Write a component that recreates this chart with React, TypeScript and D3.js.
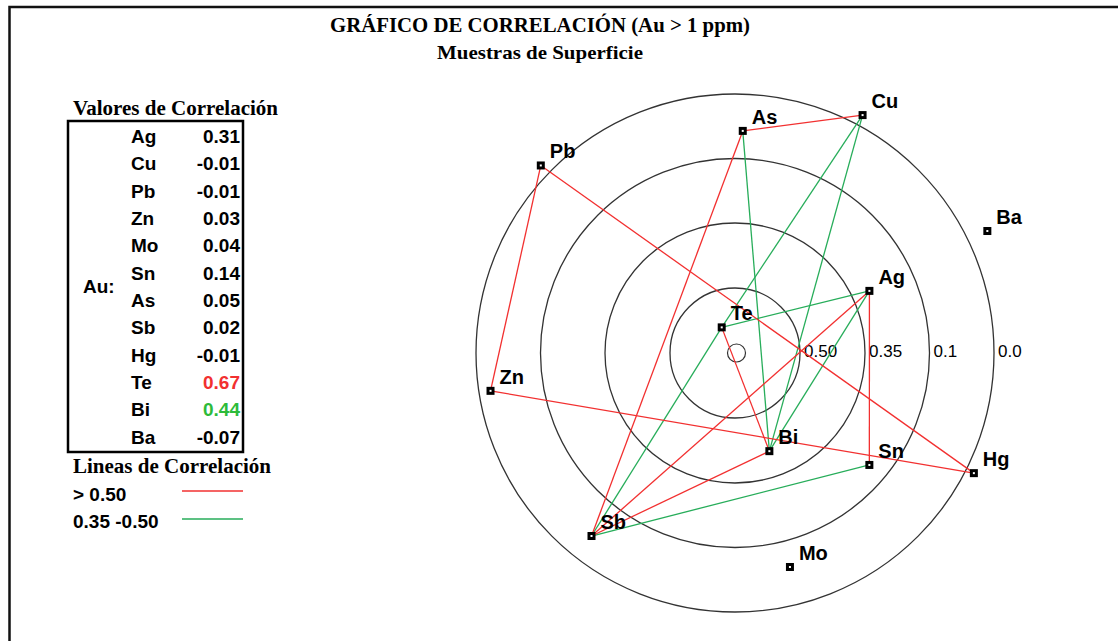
import React from 'react';
import * as d3 from 'd3';

// Au correlation table
const elements = ['Ag', 'Cu', 'Pb', 'Zn', 'Mo', 'Sn', 'As', 'Sb', 'Hg', 'Te', 'Bi', 'Ba'];
const auCorr = [0.31, -0.01, -0.01, 0.03, 0.04, 0.14, 0.05, 0.02, -0.01, 0.67, 0.44, -0.07];

// where each element sits on the diagram (angle clockwise from north, position on radial scale)
const angles = [65.2, 28.2, 314.0, 261.2, 165.6, 129.8, 2.0, 218.1, 116.7, 332.6, 160.7, 64.2];
const radialPos = [0.28, -0.017, -0.017, 0.018, 0.059, 0.176, 0.057, 0.041, -0.013, 0.778, 0.41, -0.033];

// rings of the radial scale
const ringValues = [0.5, 0.35, 0.1, 0.0];
const ringLabels = ['0.50', '0.35', '0.1', '0.0'];

// correlation lines between elements
const strongLinks = [
  ['As', 'Cu'], ['Pb', 'Zn'], ['Pb', 'Hg'], ['Zn', 'Hg'], ['Ag', 'Sn'],
  ['Ag', 'Sb'], ['Te', 'Bi'], ['As', 'Sb'], ['Sb', 'Bi'],
];
const mediumLinks = [
  ['Te', 'Ag'], ['Te', 'Cu'], ['Te', 'Sb'], ['Cu', 'Bi'], ['As', 'Bi'], ['Ag', 'Bi'], ['Sb', 'Sn'],
];

const legendLabels = ['> 0.50', '0.35 -0.50'];

const RED = '#f23030';
const GREEN = '#27ad5a';
const serif = "'Liberation Serif', 'Times New Roman', serif";
const sans = "'Liberation Sans', Arial, sans-serif";

const App = () => {
  const width = 1118;
  const height = 641;
  const cx = 735;
  const cy = 353;

  const r = d3.scaleLinear().domain([1, 0.5, 0.35, 0.1, 0]).range([0, 65, 130, 194.5, 259]);

  const pos: Record<string, [number, number]> = {};
  elements.forEach((el, i) => {
    const [x, y] = d3.pointRadial((angles[i] * Math.PI) / 180, r(radialPos[i]));
    pos[el] = [cx + x, cy + y];
  });

  const rowY = d3.scaleLinear().domain([0, 11]).range([143, 443.5]);
  const valueColor = (v: number) => (v > 0.5 ? RED : v >= 0.35 ? '#2dbb3a' : '#000');

  const link = d3.line();

  return (
    <div style={{ position: 'absolute', left: 0, top: 0 }}>
      <svg width={width} height={height} style={{ display: 'block', background: '#fff' }}>
        {/* frame */}
        <rect x={9.5} y={7} width={1130} height={660} fill="none" stroke="#111" strokeWidth={2.5} />

        {/* titles */}
        <text x={540} y={32} textAnchor="middle" fontFamily={serif} fontWeight="bold" fontSize={20}
          textLength={420} lengthAdjust="spacingAndGlyphs">GRÁFICO DE CORRELACIÓN (Au &gt; 1 ppm)</text>
        <text x={540} y={59} textAnchor="middle" fontFamily={serif} fontWeight="bold" fontSize={19}
          textLength={206} lengthAdjust="spacingAndGlyphs">Muestras de Superficie</text>

        {/* table */}
        <text x={73} y={115} fontFamily={serif} fontWeight="bold" fontSize={20}
          textLength={205} lengthAdjust="spacingAndGlyphs">Valores de Correlación</text>
        <rect x={68} y={121} width={175} height={331} fill="none" stroke="#000" strokeWidth={2.5} />
        <text x={83} y={293} fontFamily={sans} fontWeight="bold" fontSize={19}>Au:</text>
        {elements.map((el, i) => (
          <g key={el} fontFamily={sans} fontWeight="bold" fontSize={19}>
            <text x={131} y={rowY(i)}>{el}</text>
            <text x={240} y={rowY(i)} textAnchor="end" fill={valueColor(auCorr[i])}>
              {auCorr[i].toFixed(2)}
            </text>
          </g>
        ))}

        {/* legend */}
        <text x={73} y={473} fontFamily={serif} fontWeight="bold" fontSize={20}
          textLength={198} lengthAdjust="spacingAndGlyphs">Lineas de Correlación</text>
        {legendLabels.map((lab, i) => (
          <g key={lab}>
            <text x={73} y={501 + i * 26.5} fontFamily={sans} fontWeight="bold" fontSize={19}>{lab}</text>
            <line x1={182} x2={243} y1={491 + i * 28} y2={491 + i * 28}
              stroke={i === 0 ? RED : GREEN} strokeWidth={1.5} />
          </g>
        ))}

        {/* rings */}
        <circle cx={cx + 1.5} cy={cy} r={9} fill="none" stroke="#333" strokeWidth={1.2} />
        {ringValues.map((v, i) => (
          <g key={v}>
            <circle cx={cx} cy={cy} r={r(v)} fill="none" stroke="#333" strokeWidth={1.3} />
            <text x={cx + r(v) + 4} y={357} fontFamily={sans} fontSize={17}>{ringLabels[i]}</text>
          </g>
        ))}

        {/* correlation lines */}
        {mediumLinks.map(([a, b]) => (
          <path key={a + b} d={link([pos[a], pos[b]]) || ''} stroke={GREEN} strokeWidth={1.3} fill="none" />
        ))}
        {strongLinks.map(([a, b]) => (
          <path key={a + b} d={link([pos[a], pos[b]]) || ''} stroke={RED} strokeWidth={1.3} fill="none" />
        ))}

        {/* element markers */}
        {elements.map((el) => (
          <g key={el}>
            <rect x={pos[el][0] - 2.5} y={pos[el][1] - 2.5} width={5} height={5}
              fill="#fff" stroke="#000" strokeWidth={3} />
            <text x={pos[el][0] + 9} y={pos[el][1] - 7} fontFamily={sans} fontWeight="bold" fontSize={20}>{el}</text>
          </g>
        ))}
      </svg>
    </div>
  );
};

export default App;
